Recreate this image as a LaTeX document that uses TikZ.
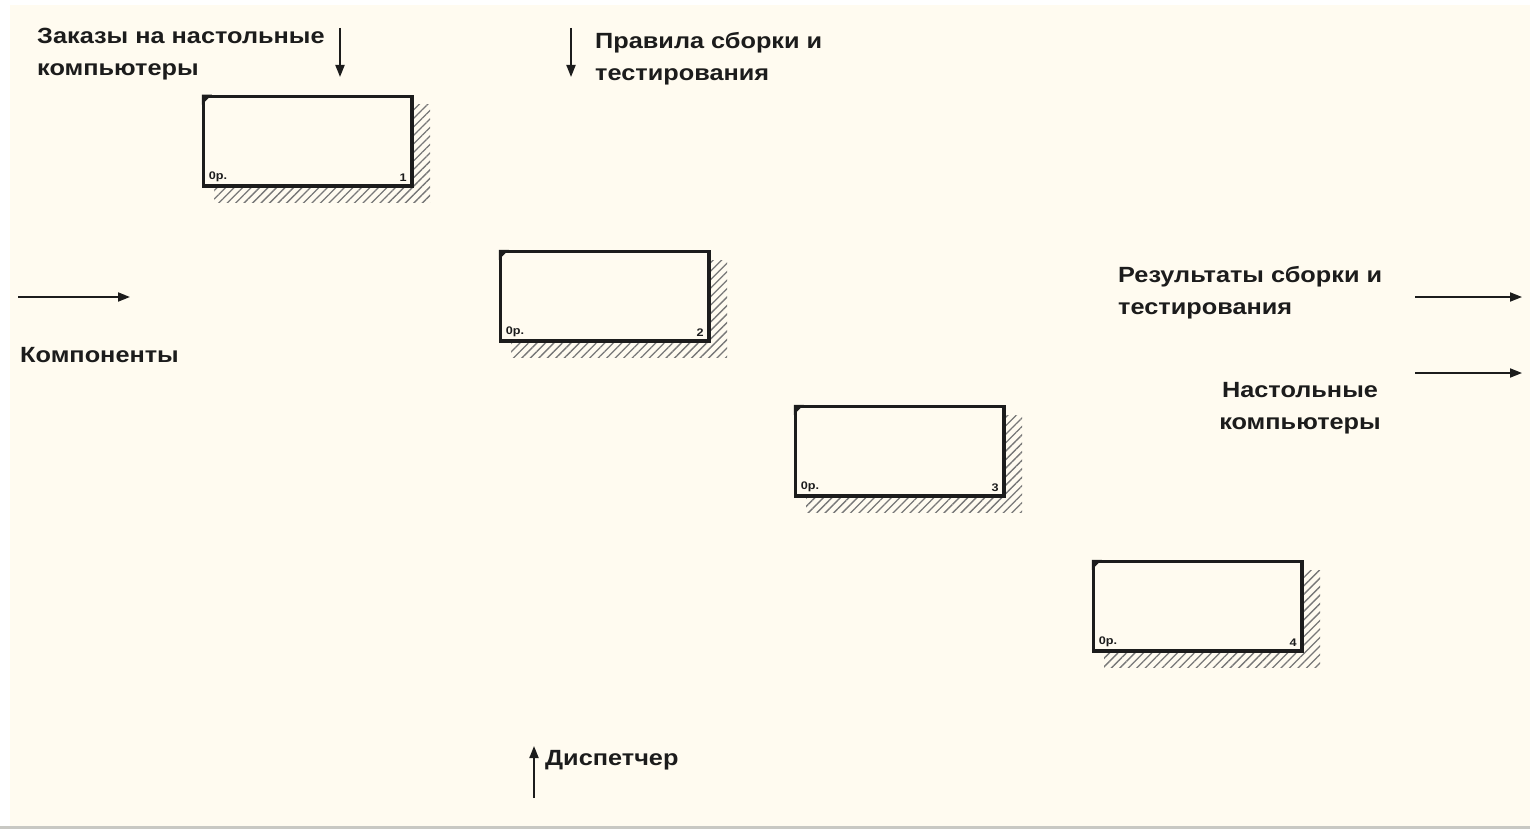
\documentclass[tikz,border=0pt]{standalone}
\usepackage{fontspec}
\setmainfont{Liberation Sans}[FakeStretch=1.15]
\usetikzlibrary{positioning,arrows.meta,patterns.meta}
\usepackage{xcolor}
\definecolor{paperc}{RGB}{255,251,240}
\definecolor{inkc}{RGB}{28,28,28}
\definecolor{edgec}{RGB}{200,200,195}
\tikzset{
  act/.style={draw=inkc, line width=3.5pt, fill=paperc, minimum width=208.5pt, minimum height=89.5pt, inner sep=0pt, anchor=north west},
  shade/.style={pattern={Lines[angle=45,distance=6pt,line width=1.3pt]}, pattern color=inkc!60},
  lbl/.style={font=\fontsize{22}{32}\selectfont\bfseries, text=inkc, align=left, inner sep=0pt},
  tag/.style={font=\fontsize{11}{11}\selectfont\bfseries, text=inkc, inner sep=0pt},
  flow/.style={-{Triangle[length=12pt,width=9pt]}, line width=1.8pt, inkc}
}

\begin{document}
\begin{tikzpicture}[x=1pt, y=-1pt]
  \useasboundingbox (0,0) rectangle (1530,829);
  \fill[white] (0,0) rectangle (1530,829);
  \fill[paperc] (10,5) rectangle (1530,826);
  \fill[edgec] (0,826) rectangle (1530,829);

  \newcommand{\actbox}[4]{
    \path[shade] (#2+14,#3+12) rectangle (#2+230,#3+109);
    \node[act] (#1) at (#2+1.75,#3+1.75) {};
    \fill[inkc] (#1.north west) -- ++(10,0) -- ++(-10,10) -- cycle;
    \node[tag, anchor=south west] at ([shift={(7,-6)}]#1.south west) {0р.};
    \node[tag, anchor=south east] at ([shift={(-7,-6)}]#1.south east) {#4};
  }
  \actbox{a1}{200}{93}{1}
  \actbox{a2}{497}{248}{2}
  \actbox{a3}{792}{403}{3}
  \actbox{a4}{1090}{558}{4}

  % inputs
  \coordinate (kin) at (18,297);
  \coordinate (kend) at (130,297);
  \draw[flow] (kin) -- (kend);
  \node[lbl, anchor=west] (komp) at (20,355) {Компоненты};

  % controls
  \node[lbl, anchor=north west] (zak) at (37,28) {Заказы на настольные\\компьютеры};
  \coordinate (zin) at (340,28);
  \coordinate (zend) at (340,77);
  \draw[flow] (zin) -- (zend);

  \node[lbl, anchor=north west] (prav) at (595,32) {Правила сборки и\\тестирования};
  \coordinate (pin) at (571,28);
  \coordinate (pend) at (571,77);
  \draw[flow] (pin) -- (pend);

  % mechanism
  \coordinate (din) at (534,798);
  \coordinate (dend) at (534,746);
  \draw[flow] (din) -- (dend);
  \node[lbl, anchor=west] (disp) at (545,760) {Диспетчер};

  % outputs
  \node[lbl, anchor=north west] (res) at (1118,266) {Результаты сборки и\\тестирования};
  \coordinate (rin) at (1415,297);
  \coordinate (rend) at (1522,297);
  \draw[flow] (rin) -- (rend);

  \node[lbl, align=center] (nast) at (1300,408) {Настольные\\компьютеры};
  \coordinate (nin) at (1415,373);
  \coordinate (nend) at (1522,373);
  \draw[flow] (nin) -- (nend);
\end{tikzpicture}
\end{document}
